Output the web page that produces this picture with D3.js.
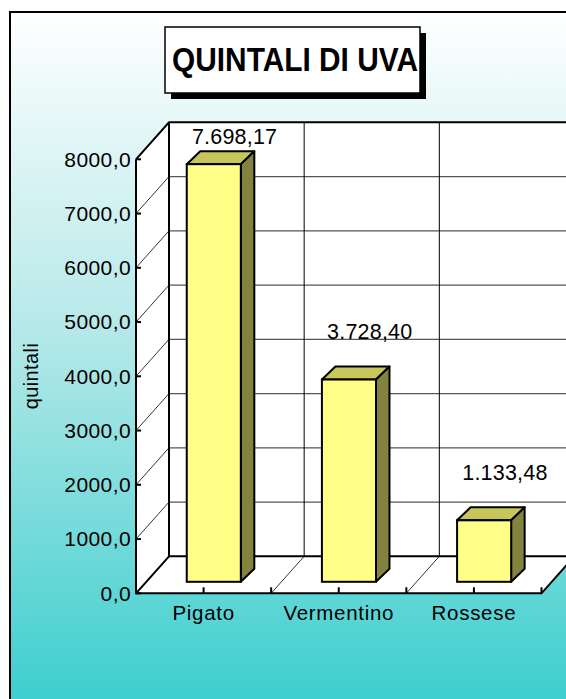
<!DOCTYPE html>
<html>
<head>
<meta charset="utf-8">
<script src="https://cdn.jsdelivr.net/npm/d3@7"></script>
<style>
  body { margin: 0; background: #fff; }
  svg { display: block; font-family: "Liberation Sans", Arial, sans-serif; }
</style>
</head>
<body>
<svg id="chart" width="566" height="699"></svg>
<script>
// data
var categories = ["Pigato", "Vermentino", "Rossese"];
var quintali = [7698.17, 3728.40, 1133.48];
var yTicks = [0, 1000, 2000, 3000, 4000, 5000, 6000, 7000, 8000];
var titleText = "QUINTALI DI UVA";
var yTitle = "quintali";

var it = d3.formatLocale({decimal: ",", thousands: ".", grouping: [3], currency: ["", " €"]});
var fmtTick = it.format(".1f");
var fmtValue = it.format(",.2f");

var svg = d3.select("#chart");

// frame background
var defs = svg.append("defs");
var grad = defs.append("linearGradient")
  .attr("id", "bg").attr("x1", 0).attr("y1", 0).attr("x2", 0).attr("y2", 1);
grad.append("stop").attr("offset", "0%").attr("stop-color", "#ffffff");
grad.append("stop").attr("offset", "45%").attr("stop-color", "#b4e8e8");
grad.append("stop").attr("offset", "100%").attr("stop-color", "#33cccc");

svg.append("rect")
  .attr("x", 10).attr("y", 12).attr("width", 620).attr("height", 720)
  .attr("fill", "url(#bg)").attr("stroke", "#000").attr("stroke-width", 2);

// plot geometry
var x0 = 136, x1 = 541.5;
var depth = {dx: 33, dy: -37};
var barShift = {dx: 10.2, dy: -11.5};
var barDepth = {dx: 13.5, dy: -13};

var y = d3.scaleLinear().domain([0, 8000]).range([593.3, 159.3]);
var xCat = d3.scaleBand().domain(categories).range([x0, x1]);
var xBar = d3.scaleBand().domain(categories).range([x0, x1])
  .paddingInner(0.6).paddingOuter(0.3);

var step = xCat.step();
var bounds = d3.range(categories.length + 1).map(function(i) { return x0 + i * step; });
var yBack = function(v) { return y(v) + depth.dy; };
var line = d3.line();

// walls
var g = svg.append("g");
g.append("path") // left wall
  .attr("d", line([[x0, y(8000)], [x0 + depth.dx, yBack(8000)], [x0 + depth.dx, yBack(0)], [x0, y(0)]]) + "Z")
  .attr("fill", "#fff");
g.append("path") // back wall
  .attr("d", line([[x0 + depth.dx, yBack(8000)], [x1 + depth.dx, yBack(8000)], [x1 + depth.dx, yBack(0)], [x0 + depth.dx, yBack(0)]]) + "Z")
  .attr("fill", "#fff");
g.append("path") // floor
  .attr("d", line([[x0, y(0)], [x0 + depth.dx, yBack(0)], [x1 + depth.dx, yBack(0)], [x1, y(0)]]) + "Z")
  .attr("fill", "#fff");

// horizontal gridlines on back wall + diagonals on left wall
g.selectAll(".hgrid").data(yTicks.slice(1, -1)).enter().append("line")
  .attr("x1", x0 + depth.dx).attr("x2", x1 + depth.dx)
  .attr("y1", yBack).attr("y2", yBack)
  .attr("stroke", "#555").attr("stroke-width", 1.2);
g.selectAll(".dgrid").data(yTicks.slice(1, -1)).enter().append("line")
  .attr("x1", x0).attr("x2", x0 + depth.dx)
  .attr("y1", function(d) { return y(d); }).attr("y2", yBack)
  .attr("stroke", "#000").attr("stroke-width", 0.8);

// vertical gridlines on back wall and floor diagonals at category bounds
g.selectAll(".vgrid").data(bounds.slice(1, -1)).enter().append("line")
  .attr("x1", function(d) { return d + depth.dx; }).attr("x2", function(d) { return d + depth.dx; })
  .attr("y1", yBack(8000)).attr("y2", yBack(0))
  .attr("stroke", "#000").attr("stroke-width", 1);
g.selectAll(".fgrid").data(bounds.slice(1, -1)).enter().append("line")
  .attr("x1", function(d) { return d; }).attr("x2", function(d) { return d + depth.dx; })
  .attr("y1", y(0)).attr("y2", yBack(0))
  .attr("stroke", "#000").attr("stroke-width", 0.8);

// thick edges
var thick = [
  [[x0, y(8000)], [x0 + depth.dx, yBack(8000)], [x1 + depth.dx, yBack(8000)]],
  [[x0 + depth.dx, yBack(8000)], [x0 + depth.dx, yBack(0)], [x1 + depth.dx, yBack(0)]],
  [[x0, y(8000)], [x0, y(0)], [x1, y(0)], [x1 + depth.dx, yBack(0)]],
  [[x0, y(0)], [x0 + depth.dx, yBack(0)]]
];
g.selectAll(".edge").data(thick).enter().append("path")
  .attr("d", function(d) { return line(d); })
  .attr("fill", "none").attr("stroke", "#000").attr("stroke-width", 2)
  .attr("stroke-linejoin", "miter");

// y axis ticks and labels
g.selectAll(".ytick").data(yTicks).enter().append("line")
  .attr("x1", x0).attr("x2", x0 + 5)
  .attr("y1", function(d) { return y(d); }).attr("y2", function(d) { return y(d); })
  .attr("stroke", "#000").attr("stroke-width", 2);
g.selectAll(".ylab").data(yTicks).enter().append("text")
  .attr("x", 131).attr("y", function(d) { return y(d); })
  .attr("dy", "0.35em")
  .attr("text-anchor", "end")
  .attr("font-size", 21).attr("letter-spacing", 0.4)
  .text(function(d) { return fmtTick(d); });

// x axis ticks and labels
var xTickPos = bounds.concat(categories.map(function(c) { return xCat(c) + step / 2; }));
g.selectAll(".xtick").data(xTickPos).enter().append("line")
  .attr("x1", function(d) { return d; }).attr("x2", function(d) { return d; })
  .attr("y1", y(0)).attr("y2", y(0) - 6)
  .attr("stroke", "#000").attr("stroke-width", 2);
g.selectAll(".xlab").data(categories).enter().append("text")
  .attr("x", function(d) { return xCat(d) + step / 2; })
  .attr("y", 619.5)
  .attr("text-anchor", "middle")
  .attr("font-size", 20.5).attr("letter-spacing", 0.7)
  .text(function(d) { return d; });

// y axis title
g.append("text")
  .attr("transform", "translate(38," + 376 + ") rotate(-90)")
  .attr("text-anchor", "middle")
  .attr("font-size", 20).attr("letter-spacing", 0.4)
  .text(yTitle);

// 3D bars
var bw = xBar.bandwidth();
var bars = g.selectAll(".bar").data(categories).enter().append("g");
bars.each(function(c, i) {
  var bx = xBar(c) + barShift.dx;
  var yt = y(quintali[i]) + barShift.dy;
  var yb = y(0) + barShift.dy;
  var sel = d3.select(this);
  sel.append("path")
    .attr("d", line([[bx, yt], [bx + barDepth.dx, yt + barDepth.dy], [bx + bw + barDepth.dx, yt + barDepth.dy], [bx + bw, yt]]) + "Z")
    .attr("fill", "#c6c65c").attr("stroke", "#000").attr("stroke-width", 2).attr("stroke-linejoin", "round");
  sel.append("path")
    .attr("d", line([[bx + bw, yt], [bx + bw + barDepth.dx, yt + barDepth.dy], [bx + bw + barDepth.dx, yb + barDepth.dy], [bx + bw, yb]]) + "Z")
    .attr("fill", "#83833f").attr("stroke", "#000").attr("stroke-width", 2).attr("stroke-linejoin", "round");
  sel.append("rect")
    .attr("x", bx).attr("y", yt).attr("width", bw).attr("height", yb - yt)
    .attr("fill", "#ffff88").attr("stroke", "#000").attr("stroke-width", 2);
});

// value labels
g.selectAll(".vlab").data(categories).enter().append("text")
  .attr("x", function(d) { return xCat(d) + step / 2 + 31; })
  .attr("y", function(d, i) { return Math.max(yBack(quintali[i]) - 15, yBack(8000) + 22); })
  .attr("text-anchor", "middle")
  .attr("font-size", 21.5).attr("letter-spacing", 0.2)
  .text(function(d, i) { return fmtValue(quintali[i]); });

// title box
svg.append("rect")
  .attr("x", 171).attr("y", 33).attr("width", 255).attr("height", 66)
  .attr("fill", "#000");
svg.append("rect")
  .attr("x", 165).attr("y", 27).attr("width", 255).attr("height", 66)
  .attr("fill", "#fff").attr("stroke", "#000").attr("stroke-width", 1.5);
svg.append("text")
  .attr("x", 172).attr("y", 71)
  .attr("font-size", 34).attr("font-weight", "bold")
  .attr("textLength", 246).attr("lengthAdjust", "spacingAndGlyphs")
  .text(titleText);
</script>
</body>
</html>
